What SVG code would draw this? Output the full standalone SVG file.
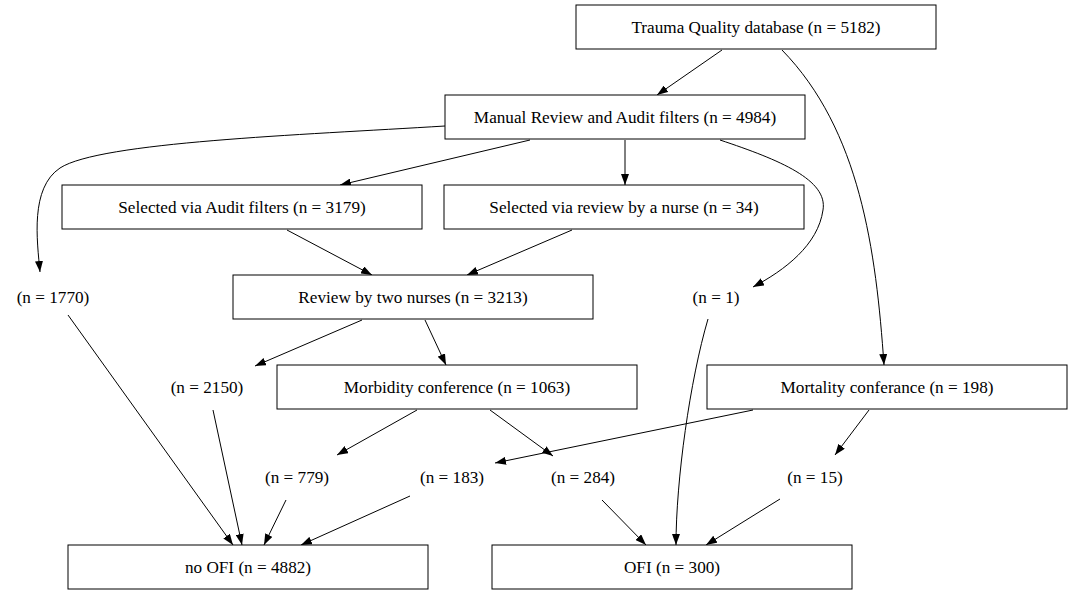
<svg xmlns="http://www.w3.org/2000/svg" width="1073" height="595" viewBox="0 0 1073 595">
<style>
.box{fill:#fff;stroke:#000;stroke-width:1}
text{font-family:'Liberation Serif','Times New Roman',serif;font-size:17.2px;fill:#000;text-anchor:middle}
.e{fill:none;stroke:#000;stroke-width:1;marker-end:url(#ah)}
</style>
<defs>
<marker id="ah" markerWidth="11" markerHeight="8" refX="11" refY="4" orient="auto" markerUnits="userSpaceOnUse">
<path d="M0,0 L11,4 L0,8 Z" fill="#000"/>
</marker>
</defs>
<rect width="1073" height="595" fill="#fff"/>
<g id="edges">
<path class="e" d="M722,50 L657,95"/>
<path class="e" d="M782,50 C860,130 876,250 884,365"/>
<path class="e" d="M445,126 C300,135 100,142 60,168 C30,188 37,240 40,272"/>
<path class="e" d="M530,140 L340,185"/>
<path class="e" d="M625,140 L625,185"/>
<path class="e" d="M720,140 C780,160 828,180 823,210 C818,245 785,270 753,287"/>
<path class="e" d="M287,230 L372,275"/>
<path class="e" d="M572,230 L467,275"/>
<path class="e" d="M362,320 L255,366"/>
<path class="e" d="M425,320 L446,365"/>
<path class="e" d="M417,410 L337,455"/>
<path class="e" d="M490,410 L553,456"/>
<path class="e" d="M753,410 L495,463"/>
<path class="e" d="M869,410 L835,455"/>
<path class="e" d="M68,315 L233,545"/>
<path class="e" d="M213,410 L242,545"/>
<path class="e" d="M286,500 L264,545"/>
<path class="e" d="M410,496 L301,545"/>
<path class="e" d="M708,319 C690,380 676,480 676,545"/>
<path class="e" d="M602,500 L646,545"/>
<path class="e" d="M780,499 L706,545"/>
</g>
<g id="trauma"><rect class="box" x="576" y="5" width="360" height="44"/><text x="756" y="33">Trauma Quality database (n = 5182)</text></g>
<g id="manual"><rect class="box" x="445" y="95" width="360" height="44"/><text x="625" y="123">Manual Review and Audit filters (n = 4984)</text></g>
<g id="audit"><rect class="box" x="62" y="185" width="360" height="44"/><text x="242" y="213">Selected via Audit filters (n = 3179)</text></g>
<g id="nurse"><rect class="box" x="444" y="185" width="360" height="44"/><text x="624" y="213">Selected via review by a nurse (n = 34)</text></g>
<g id="review"><rect class="box" x="233" y="275" width="360" height="44"/><text x="413" y="303">Review by two nurses (n = 3213)</text></g>
<g id="morbidity"><rect class="box" x="277" y="365" width="360" height="44"/><text x="457" y="393">Morbidity conference (n = 1063)</text></g>
<g id="mortality"><rect class="box" x="707" y="365" width="360" height="44"/><text x="887" y="393">Mortality conferance (n = 198)</text></g>
<g id="noofi"><rect class="box" x="68" y="545" width="360" height="44"/><text x="248" y="573">no OFI (n = 4882)</text></g>
<g id="ofi"><rect class="box" x="492" y="545" width="360" height="44"/><text x="672" y="573">OFI (n = 300)</text></g>
<g id="n1770"><text x="53" y="303">(n = 1770)</text></g>
<g id="n1"><text x="716" y="303">(n = 1)</text></g>
<g id="n2150"><text x="207" y="393">(n = 2150)</text></g>
<g id="n779"><text x="297" y="483">(n = 779)</text></g>
<g id="n183"><text x="452" y="483">(n = 183)</text></g>
<g id="n284"><text x="583" y="483">(n = 284)</text></g>
<g id="n15"><text x="815" y="483">(n = 15)</text></g>
</svg>
